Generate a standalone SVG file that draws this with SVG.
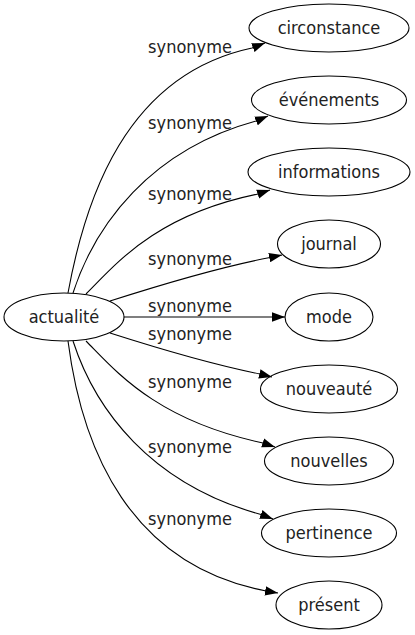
<svg xmlns="http://www.w3.org/2000/svg" width="415" height="635" viewBox="0 0 415 635">
<style>
  .node ellipse { fill: none; stroke: #000; stroke-width: 1.1; }
  .node text { font-family: "DejaVu Sans Condensed", "DejaVu Sans", sans-serif; font-stretch: condensed; font-size: 18px; fill: #222; text-anchor: middle; }
  .edges path { fill: none; stroke: #000; stroke-width: 1.1; marker-end: url(#arrow); }
  .edges text { font-family: "DejaVu Sans Condensed", "DejaVu Sans", sans-serif; font-stretch: condensed; font-size: 18px; fill: #222; text-anchor: middle; }
</style>
<defs>
  <marker id="arrow" markerUnits="userSpaceOnUse" viewBox="0 0 13 10" markerWidth="13" markerHeight="10" refX="13" refY="5" orient="auto">
    <path d="M0,0.3 L13,5 L0,9.7 Z" fill="#000"/>
  </marker>
</defs>
<rect width="415" height="635" fill="#fff"/>
<g id="edges" class="edges">
  <path d="M68,293 C85,200 125,75 252,48 L265,43"/>
  <text x="190" y="53">synonyme</text>
  <path d="M73,293 C95,225 150,150 256,121 L268,116"/>
  <text x="190" y="129">synonyme</text>
  <path d="M86,294 C115,265 155,215 258,194 L270,190"/>
  <text x="190" y="200">synonyme</text>
  <path d="M110,301 C160,285 215,268 270,257.5 L282,255"/>
  <text x="190" y="265">synonyme</text>
  <path d="M124,317 L285,317"/>
  <text x="190" y="312">synonyme</text>
  <path d="M110,333 C160,349 210,364 260,374 L272,377"/>
  <text x="190" y="340">synonyme</text>
  <path d="M86,341 C115,370 155,420 263,443 L275,447"/>
  <text x="190" y="388">synonyme</text>
  <path d="M73,341 C95,409 150,484 261,514.5 L273,519"/>
  <text x="190" y="453">synonyme</text>
  <path d="M68,341 C82,450 130,565 266,591 L278,593"/>
  <text x="190" y="525">synonyme</text>
</g>
<g id="actualite" class="node"><ellipse cx="64" cy="317" rx="60" ry="24"/><text x="64" y="323">actualité</text></g>
<g id="circonstance" class="node"><ellipse cx="329" cy="28" rx="80" ry="24"/><text x="329" y="34">circonstance</text></g>
<g id="evenements" class="node"><ellipse cx="329" cy="100" rx="77.5" ry="24"/><text x="329" y="106">événements</text></g>
<g id="informations" class="node"><ellipse cx="329" cy="172" rx="81" ry="24"/><text x="329" y="178">informations</text></g>
<g id="journal" class="node"><ellipse cx="329" cy="244" rx="51.5" ry="24"/><text x="329" y="250">journal</text></g>
<g id="mode" class="node"><ellipse cx="329" cy="317" rx="44" ry="24"/><text x="329" y="323">mode</text></g>
<g id="nouveaute" class="node"><ellipse cx="329" cy="389" rx="68.5" ry="24"/><text x="329" y="395">nouveauté</text></g>
<g id="nouvelles" class="node"><ellipse cx="329" cy="461" rx="64.5" ry="24"/><text x="329" y="467">nouvelles</text></g>
<g id="pertinence" class="node"><ellipse cx="329" cy="533" rx="67.5" ry="24"/><text x="329" y="539">pertinence</text></g>
<g id="present" class="node"><ellipse cx="329" cy="605" rx="53" ry="24"/><text x="329" y="611">présent</text></g>
</svg>
